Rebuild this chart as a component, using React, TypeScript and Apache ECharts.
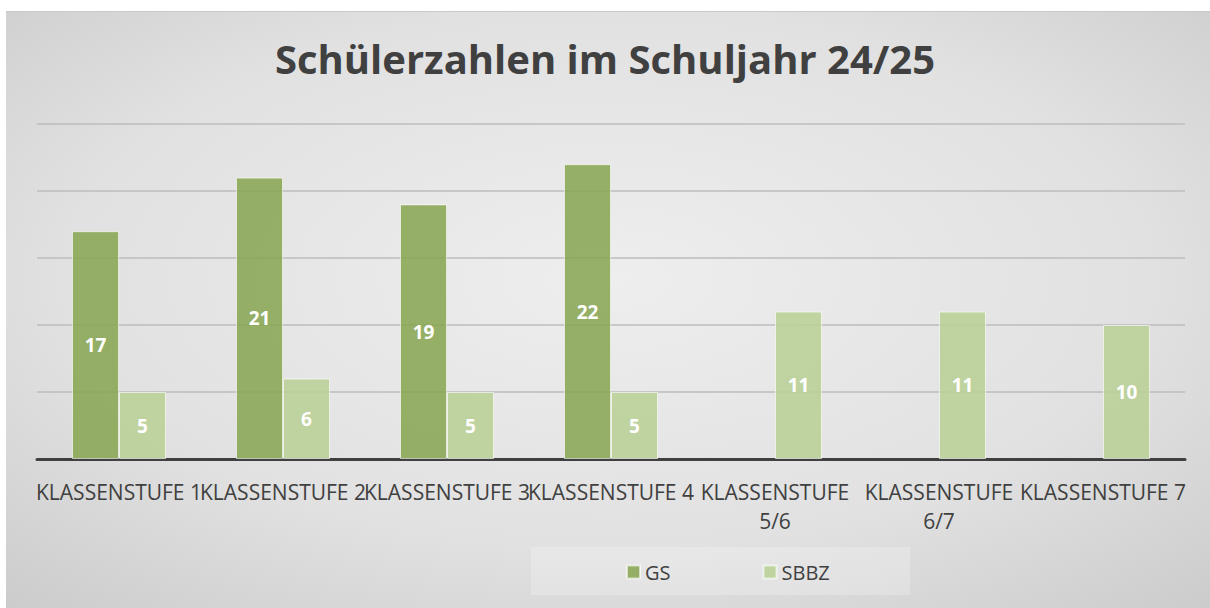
import React, { useEffect, useRef } from "react";
import * as echarts from "echarts";

const categories = [
  "KLASSENSTUFE 1",
  "KLASSENSTUFE 2",
  "KLASSENSTUFE 3",
  "KLASSENSTUFE 4",
  "KLASSENSTUFE 5/6",
  "KLASSENSTUFE 6/7",
  "KLASSENSTUFE 7",
];
const gsValues: (number | null)[] = [17, 21, 19, 22, null, null, null];
const sbbzValues: (number | null)[] = [5, 6, 5, 5, 11, 11, 10];
const yTicks = [0, 5, 10, 15, 20, 25];

const FONT = "'Open Sans', 'Noto Sans', sans-serif";

export default function App() {
  const ref = useRef<HTMLDivElement>(null);
  useEffect(() => {
    if (!ref.current) return;
    const chart = echarts.init(ref.current, undefined, { renderer: "svg" });
    const labelStyle = {
      show: true,
      position: "inside" as const,
      color: "#ffffff",
      fontWeight: "bold" as const,
      fontSize: 19,
      fontFamily: FONT,
    };
    chart.setOption({
      animation: false,
      graphic: [
        {
          type: "rect",
          z: -10,
          silent: true,
          shape: { x: 6, y: 11, width: 1204, height: 597 },
          style: {
            fill: new echarts.graphic.RadialGradient(0.5, 0.45, 1.0, [
              { offset: 0, color: "#eeeeee" },
              { offset: 0.45, color: "#e1e1e1" },
              { offset: 1, color: "#b9b9b9" },
            ]),
          },
        },
        {
          type: "line",
          z: -9,
          silent: true,
          shape: { x1: 6, y1: 11.5, x2: 1210, y2: 11.5 },
          style: { stroke: "#c8c8c8", lineWidth: 1 },
        },
        {
          type: "rect",
          z: -8,
          silent: true,
          shape: { x: 531, y: 547, width: 379, height: 48 },
          style: { fill: "rgba(255,255,255,0.22)" },
        },
      ],
      title: {
        text: "Schülerzahlen im Schuljahr 24/25",
        left: "center",
        top: 33,
        textStyle: {
          fontFamily: FONT,
          fontWeight: "bold",
          fontSize: 40,
          color: "#404040",
        },
      },
      legend: {
        left: 621,
        top: 557,
        icon: "rect",
        itemWidth: 13,
        itemHeight: 13,
        itemGap: 92,
        textStyle: { fontFamily: FONT, fontSize: 20, color: "#404040" },
        data: ["GS", "SBBZ"],
      },
      grid: { left: 37, right: 25, top: 124, bottom: 149, containLabel: false },
      xAxis: {
        type: "category",
        data: categories,
        axisLine: { lineStyle: { color: "#404040", width: 3 } },
        axisTick: { show: false },
        axisLabel: {
          interval: 0,
          margin: 18,
          fontFamily: FONT,
          fontSize: 21,
          color: "#404040",
          lineHeight: 29,
          formatter: (v: string) => (v.includes("/") ? v.replace(" ", "\n") : v),
        },
      },
      yAxis: {
        type: "value",
        min: yTicks[0],
        max: yTicks[yTicks.length - 1],
        interval: 5,
        axisLabel: { show: false },
        axisLine: { show: false },
        axisTick: { show: false },
        splitLine: { lineStyle: { color: "#bcbcbc", width: 1.5 } },
      },
      series: [
        {
          name: "GS",
          type: "bar",
          data: gsValues,
          barWidth: 47,
          barGap: "0%",
          itemStyle: {
            color: "rgba(135,165,80,0.85)",
            borderColor: "rgba(255,255,255,0.6)",
            borderWidth: 1,
          },
          label: labelStyle,
        },
        {
          name: "SBBZ",
          type: "bar",
          data: sbbzValues,
          barWidth: 47,
          barGap: "0%",
          itemStyle: {
            color: "rgba(185,208,150,0.88)",
            borderColor: "rgba(255,255,255,0.6)",
            borderWidth: 1,
          },
          label: labelStyle,
        },
      ],
    });
    return () => chart.dispose();
  }, []);
  return (
    <div
      ref={ref}
      style={{ position: "absolute", left: 0, top: 0, width: 1210, height: 608 }}
    />
  );
}
